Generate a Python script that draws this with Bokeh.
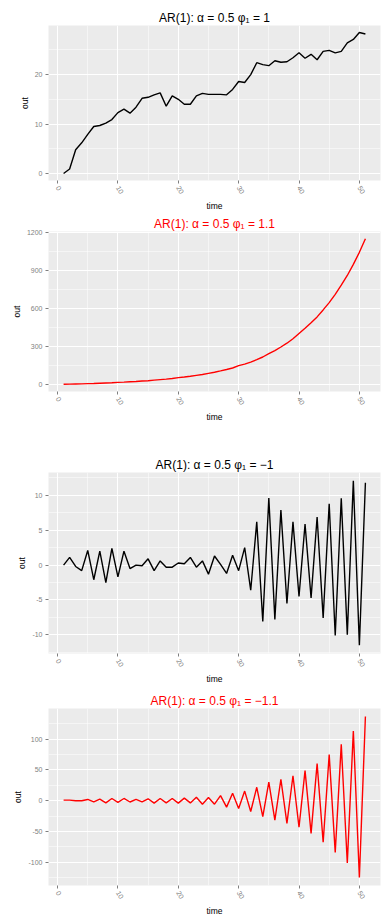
from bokeh.plotting import figure
from bokeh.layouts import column
from bokeh.models import FixedTicker, Range1d
from bokeh.embed import file_html
from bokeh.resources import INLINE

# ---- data ----
time = list(range(1, 52))

out_phi_1 = [0.0, 0.9, 4.8, 6.2, 7.9, 9.5, 9.7, 10.2, 10.9, 12.3,
             13.0, 12.2, 13.4, 15.2, 15.4, 15.9, 16.3, 13.6, 15.7, 15.0,
             14.0, 14.0, 15.7, 16.2, 16.0, 16.0, 16.0, 15.9, 17.0, 18.6,
             18.4, 20.0, 22.4, 22.0, 21.8, 22.8, 22.5, 22.6, 23.4, 24.4,
             23.3, 24.1, 23.0, 24.7, 24.9, 24.4, 24.7, 26.4, 27.1, 28.5,
             28.2]

out_phi_1_1 = [3, 4, 5, 6, 8, 9, 11, 13, 15, 18,
               20, 23, 25, 28, 31, 35, 39, 43, 48, 55,
               60, 66, 73, 80, 89, 98, 108, 119, 131, 150,
               162, 178, 197, 218, 244, 268, 297, 327, 362, 404,
               445, 489, 535, 590, 648, 713, 785, 862, 950, 1045,
               1152]

out_phi_m1 = [0.0, 1.1, -0.2, -0.8, 2.1, -2.1, 2.0, -2.5, 2.4, -1.7,
              2.0, -0.5, 0.0, -0.1, 0.9, -0.8, 0.6, -0.3, -0.3, 0.3,
              0.2, 1.1, -0.3, 0.6, -1.3, 1.3, 0.1, -1.2, 1.4, -0.8,
              2.5, -3.6, 6.2, -8.1, 9.6, -7.8, 7.9, -5.5, 6.2, -4.5,
              5.9, -4.7, 6.9, -7.6, 8.8, -10.1, 9.6, -10.0, 12.1, -11.5,
              11.8]

out_phi_m1_1 = [1, 1, 0, 0, 2, -2, 2.6, -3.6, 3.6, -2.6,
                3.6, -2.1, 2.1, -2.0, 3.1, -4.0, 3.6, -3.6, 3.6, -4.0,
                4.2, -3.6, 5.7, -5.7, 5.2, -5.7, 8.3, -10.4, 12.0, -12.5,
                15.6, -17.6, 21.8, -26.0, 30.1, -31.7, 34.8, -36.9, 40.5, -43.1,
                48.8, -53.0, 60.2, -67.5, 74.8, -84.1, 91.4, -101.2, 113.2, -124.6,
                136.6]

x_ticks = [0, 10, 20, 30, 40, 50]
x_minor = [5, 15, 25, 35, 45]

titles = ["AR(1): \u03b1 = 0.5 \u03c6\u2081 = 1",
          "AR(1): \u03b1 = 0.5 \u03c6\u2081 = 1.1",
          "AR(1): \u03b1 = 0.5 \u03c6\u2081 = \u22121",
          "AR(1): \u03b1 = 0.5 \u03c6\u2081 = \u22121.1"]
colors = ["black", "red", "black", "red"]

y_ticks = [[0, 10, 20],
           [0, 300, 600, 900, 1200],
           [-10, -5, 0, 5, 10],
           [-100, -50, 0, 50, 100]]
y_minor = [[-5, 5, 15, 25],
           [150, 450, 750, 1050],
           [-12.5, -7.5, -2.5, 2.5, 7.5, 12.5],
           [-125, -75, -25, 25, 75, 125]]

series = [out_phi_1, out_phi_1_1, out_phi_m1, out_phi_m1_1]

# layout: (height, top border, bottom border, left border)
geom = [(213, 25, 28, 38),
        (227, 18, 49, 45),
        (246, 32, 28, 43),
        (232, 22, 25, 48)]

FONT = "Liberation Sans"


def expand(vals):
    lo, hi = min(vals), max(vals)
    d = (hi - lo) * 0.05
    return lo - d, hi + d


def panel(i):
    h, top, bot, left = geom[i]
    ys = series[i]
    x0, x1 = expand(time)
    y0, y1 = expand(ys)
    p = figure(width=389, height=h, output_backend="svg", toolbar_location=None,
               x_range=Range1d(x0, x1), y_range=Range1d(y0, y1),
               min_border_left=left, min_border_right=9,
               min_border_top=top, min_border_bottom=bot,
               background_fill_color="#EBEBEB", border_fill_color="white",
               outline_line_color=None)
    p.title.text = titles[i]
    p.title.align = "center"
    p.title.text_font = FONT
    p.title.text_font_size = "12px"
    p.title.text_font_style = "normal"
    p.title.text_color = colors[i]
    p.title.standoff = 1

    p.xaxis.ticker = FixedTicker(ticks=x_ticks, minor_ticks=x_minor)
    p.yaxis.ticker = FixedTicker(ticks=y_ticks[i], minor_ticks=y_minor[i])
    p.yaxis.major_label_overrides = {t: str(t) for t in y_ticks[i]}
    p.xaxis.major_label_overrides = {t: str(t) for t in x_ticks}

    for ax in (p.xaxis[0], p.yaxis[0]):
        ax.axis_line_color = None
        ax.major_tick_line_color = "#7F7F7F"
        ax.major_tick_in = 0
        ax.major_tick_out = 3
        ax.minor_tick_line_color = None
        ax.major_label_text_font = FONT
        ax.major_label_text_font_size = "7px"
        ax.major_label_text_color = "#7F7F7F"
        ax.major_label_standoff = 2
        ax.axis_label_text_font = FONT
        ax.axis_label_text_font_size = "8.5px"
        ax.axis_label_text_font_style = "normal"
        ax.axis_label_text_color = "black"
        ax.axis_label_standoff = 2
    p.xaxis.axis_label = "time"
    p.yaxis.axis_label = "out"
    p.xaxis.major_label_orientation = -1.05

    for g in (p.xgrid[0], p.ygrid[0]):
        g.grid_line_color = "white"
        g.grid_line_width = 1
        g.minor_grid_line_color = "white"
        g.minor_grid_line_width = 0.5

    p.line(time, ys, line_color=colors[i], line_width=1.4)
    return p


figs = [panel(i) for i in range(4)]
layout = column(*figs, spacing=0)

open("out.html", "w").write(file_html(layout, INLINE))
